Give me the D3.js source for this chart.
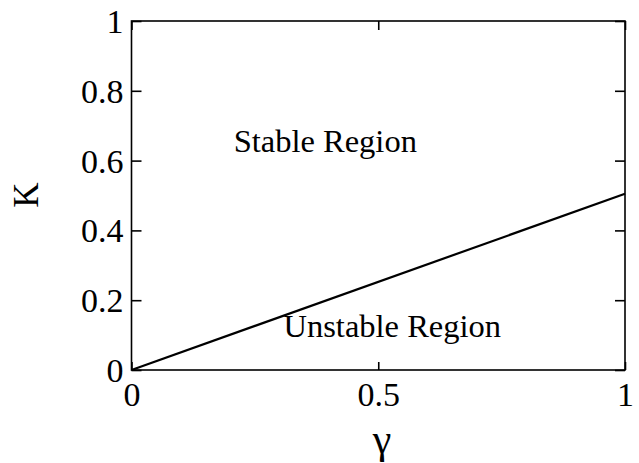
<!DOCTYPE html>
<html>
<head>
<meta charset="utf-8">
<script src="https://cdn.jsdelivr.net/npm/d3@7"></script>
<style>
  html, body { margin: 0; padding: 0; background: #fff; }
  svg { display: block; }
  .tick text { font-family: "Liberation Serif", "Times New Roman", serif; fill: #000; }
</style>
</head>
<body>
<svg id="chart" width="639" height="463"></svg>
<script>
// Stability boundary K(γ) separating the stable and unstable regions
const gammaValues = [0, 1];
const kBoundary = [0, 0.505];

const xTicks = [0, 0.5, 1];
const xTickLabels = ["0", "0.5", "1"];
const yTicks = [0, 0.2, 0.4, 0.6, 0.8, 1];
const yTickLabels = ["0", "0.2", "0.4", "0.6", "0.8", "1"];

const regionLabels = [
  { text: "Stable Region", gamma: 0.207, k: 0.625 },
  { text: "Unstable Region", gamma: 0.308, k: 0.095 }
];

const svg = d3.select("#chart");
const plotLeft = 131.5, plotRight = 625, plotTop = 21, plotBottom = 370;
const serif = '"Liberation Serif", "Times New Roman", serif';

const x = d3.scaleLinear().domain([0, 1]).range([plotLeft, plotRight]);
const y = d3.scaleLinear().domain([0, 1]).range([plotBottom, plotTop]);

// Frame
svg.append("rect")
  .attr("x", plotLeft).attr("y", plotTop)
  .attr("width", plotRight - plotLeft).attr("height", plotBottom - plotTop)
  .attr("fill", "none").attr("stroke", "#000").attr("stroke-width", 1.6);

// Left axis with labels, ticks pointing inward
const yAxis = svg.append("g")
  .attr("transform", `translate(${plotLeft},0)`)
  .call(d3.axisLeft(y).tickValues(yTicks)
    .tickFormat((d, i) => yTickLabels[i])
    .tickSizeInner(-10).tickSizeOuter(0).tickPadding(8));
yAxis.select(".domain").remove();
yAxis.selectAll(".tick line").attr("stroke", "#000").attr("stroke-width", 1.6);
yAxis.selectAll(".tick text").attr("font-size", 34).attr("dy", "0.34em");

// Right axis, ticks only
const yAxisR = svg.append("g")
  .attr("transform", `translate(${plotRight},0)`)
  .call(d3.axisRight(y).tickValues(yTicks).tickFormat("")
    .tickSizeInner(-10).tickSizeOuter(0));
yAxisR.select(".domain").remove();
yAxisR.selectAll(".tick line").attr("stroke", "#000").attr("stroke-width", 1.6);

// Bottom axis with labels
const xAxis = svg.append("g")
  .attr("transform", `translate(0,${plotBottom})`)
  .call(d3.axisBottom(x).tickValues(xTicks)
    .tickFormat((d, i) => xTickLabels[i])
    .tickSizeInner(-8).tickSizeOuter(0).tickPadding(12));
xAxis.select(".domain").remove();
xAxis.selectAll(".tick line").attr("stroke", "#000").attr("stroke-width", 1.6);
xAxis.selectAll(".tick text").attr("font-size", 34).attr("dy", "0.71em");

// Top axis, ticks only
const xAxisT = svg.append("g")
  .attr("transform", `translate(0,${plotTop})`)
  .call(d3.axisTop(x).tickValues(xTicks).tickFormat("")
    .tickSizeInner(-9).tickSizeOuter(0));
xAxisT.select(".domain").remove();
xAxisT.selectAll(".tick line").attr("stroke", "#000").attr("stroke-width", 1.6);

// Boundary line
const line = d3.line().x((d, i) => x(gammaValues[i])).y(d => y(d));
svg.append("path")
  .datum(kBoundary)
  .attr("d", line)
  .attr("fill", "none").attr("stroke", "#000").attr("stroke-width", 2.2);

// Region labels
svg.selectAll(".region")
  .data(regionLabels)
  .join("text")
  .attr("class", "region")
  .attr("x", d => x(d.gamma)).attr("y", d => y(d.k))
  .attr("font-family", serif).attr("font-size", 32.5)
  .text(d => d.text);

// Axis titles
svg.append("text")
  .attr("x", 382).attr("y", 453)
  .attr("text-anchor", "middle")
  .attr("font-family", serif).attr("font-size", 42)
  .text("γ");

svg.append("text")
  .attr("transform", "translate(38,195) rotate(-90)")
  .attr("text-anchor", "middle")
  .attr("font-family", serif).attr("font-size", 35)
  .text("K");
</script>
</body>
</html>
